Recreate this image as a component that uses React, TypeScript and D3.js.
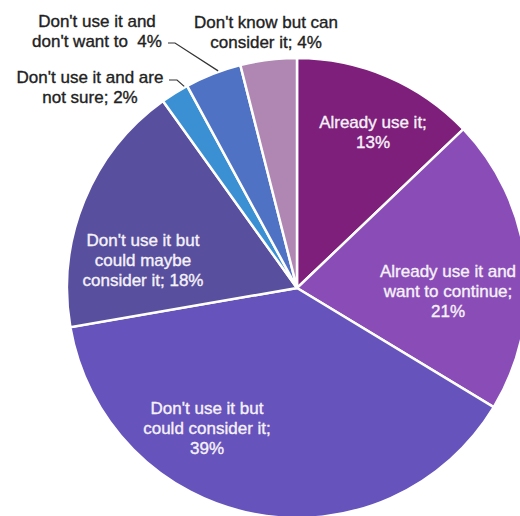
import React from "react";
import * as d3 from "d3";

// Survey answers, clockwise from 12 o'clock
const categories = [
  "Already use it",
  "Already use it and want to continue",
  "Don't use it but could consider it",
  "Don't use it but could maybe consider it",
  "Don't use it and are not sure",
  "Don't use it and don't want to",
  "Don't know but can consider it",
];
const shares = [13, 21, 39, 18, 2, 4, 4];
const colors = ["#7e1f7b", "#8a4db7", "#6653bc", "#58509f", "#3b90d4", "#4f72c4", "#b087b3"];

// Label lines for each slice
const labelLines = [
  ["Already use it;", "13%"],
  ["Already use it and", "want to continue;", "21%"],
  ["Don't use it but", "could consider it;", "39%"],
  ["Don't use it but", "could maybe", "consider it; 18%"],
  ["Don't use it and are", "not sure; 2%"],
  ["Don't use it and", "don't want to  4%"],
  ["Don't know but can", "consider it; 4%"],
];

const W = 520;
const H = 516;
const cx = 297;
const cy = 288;
const R = 230;

// Label anchor (center x, first baseline y) per slice
const labelPos: [number, number][] = [
  [373, 128],
  [448, 277],
  [207, 414],
  [143, 246],
  [90, 83],
  [97, 27],
  [266, 28],
];

export default function App() {
  const pie = d3
    .pie<number>()
    .value((d) => d)
    .sort(null)
    .startAngle(0)
    .endAngle(2 * Math.PI);
  const arcs = pie(shares);
  const arc = d3.arc<d3.PieArcDatum<number>>().innerRadius(0).outerRadius(R);

  // leader line from a label to a point on the slice's rim (f = position across the slice)
  const leader = (i: number, sx: number, sy: number, bend: number, f: number) => {
    const a = arcs[i];
    const ang = a.startAngle + f * (a.endAngle - a.startAngle);
    const ex = cx + Math.sin(ang) * (R + 1);
    const ey = cy - Math.cos(ang) * (R + 1);
    return `M${sx},${sy}L${sx + bend},${sy}L${ex},${ey}`;
  };

  return (
    <svg
      width={W}
      height={H}
      style={{ position: "absolute", left: 0, top: 0, background: "#fff" }}
      fontFamily="'Liberation Sans', Arial, sans-serif"
    >
      <g transform={`translate(${cx},${cy})`}>
        {arcs.map((a, i) => (
          <path key={categories[i]} d={arc(a) || ""} fill={colors[i]} stroke="#fff" strokeWidth={2.5} />
        ))}
      </g>
      <path d={leader(5, 168, 43, 7, 0.6)} fill="none" stroke="#333" strokeWidth={1.2} />
      <path d={leader(4, 169, 80, 8, 0.9)} fill="none" stroke="#333" strokeWidth={1.2} />
      {labelLines.map((lines, i) => {
        const inside = i < 4;
        const [x, y] = labelPos[i];
        const fill = inside ? "#f6f2f9" : "#222222";
        return (
          <text
            key={i}
            x={x}
            y={y}
            textAnchor="middle"
            fontSize={17}
            fill={fill}
            stroke={fill}
            strokeWidth={0.35}
          >
            {lines.map((l, j) => (
              <tspan key={j} x={x} dy={j === 0 ? 0 : 20} style={{ whiteSpace: "pre" }}>
                {l}
              </tspan>
            ))}
          </text>
        );
      })}
    </svg>
  );
}
